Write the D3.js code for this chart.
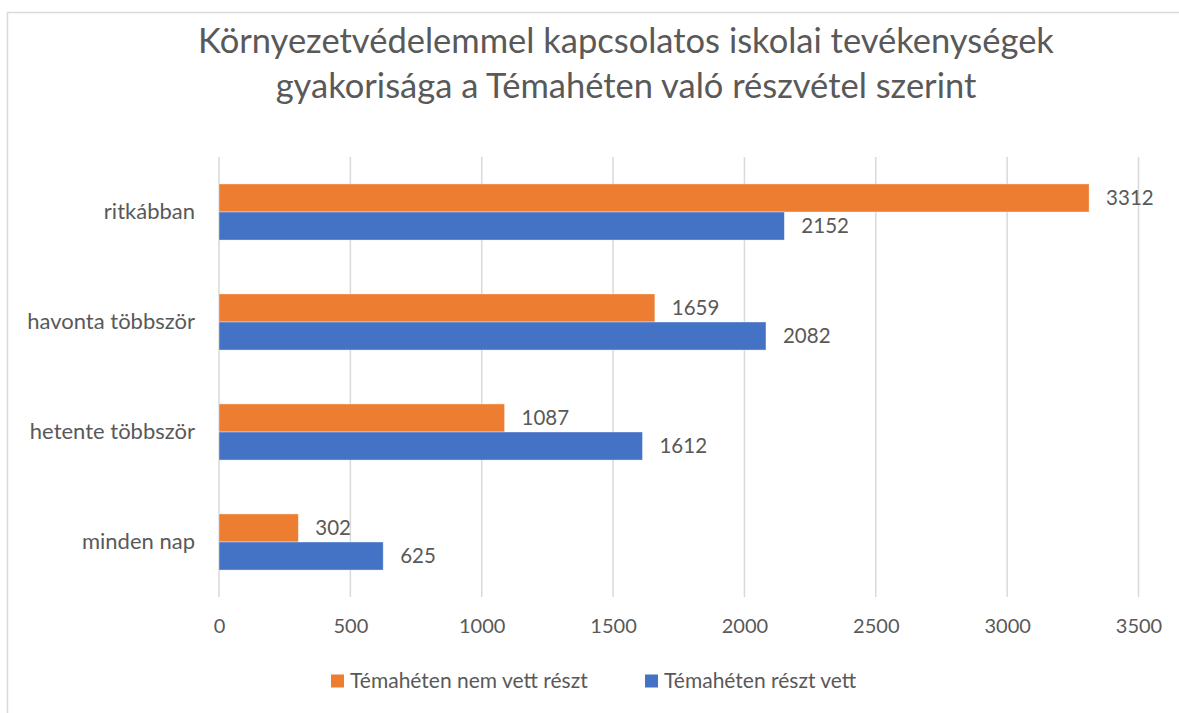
<!DOCTYPE html>
<html>
<head>
<meta charset="utf-8">
<script src="https://cdn.jsdelivr.net/npm/d3@7"></script>
<style>
  body { margin: 0; background: #fff; }
  svg text { font-family: Lato, "Open Sans", sans-serif; fill: #595959; }
</style>
</head>
<body>
<svg id="chart" width="1179" height="713"></svg>
<script>
// categories top to bottom
const categories = ['ritkábban', 'havonta többször', 'hetente többször', 'minden nap'];
const seriesNames = ['Témahéten nem vett részt', 'Témahéten részt vett'];
const notTaken = [3312, 1659, 1087, 302];
const taken = [2152, 2082, 1612, 625];
const xTicks = [0, 500, 1000, 1500, 2000, 2500, 3000, 3500];
const titleLines = ['Környezetvédelemmel kapcsolatos iskolai tevékenységek',
                    'gyakorisága a Témahéten való részvétel szerint'];
const colors = ['#ED7D31', '#4472C4'];

const svg = d3.select('#chart');

// chart border (only top & left visible, rest cropped)
svg.append('rect')
  .attr('x', 7.5).attr('y', 12.5)
  .attr('width', 1300).attr('height', 800)
  .attr('fill', 'none').attr('stroke', '#D9D9D9').attr('stroke-width', 1.5);

// title
svg.selectAll('.title')
  .data(titleLines)
  .enter()
  .append('text')
  .attr('class', 'title')
  .attr('x', 626)
  .attr('y', (d, i) => 53 + i * 45)
  .attr('text-anchor', 'middle')
  .style('font-size', '34.5px')
  .text(d => d);

// scales
let xScale = d3.scaleLinear()
  .domain([0, 3500])
  .range([219, 1138.5]);
let yScale = d3.scaleBand()
  .domain(categories)
  .range([157, 597])
  .paddingInner(0.49)
  .paddingOuter(0.245);
let ySub = d3.scaleBand()
  .domain([0, 1])
  .range([0, yScale.bandwidth()]);

// gridlines
svg.selectAll('.grid')
  .data(xTicks)
  .enter()
  .append('line')
  .attr('class', 'grid')
  .attr('x1', d => xScale(d)).attr('x2', d => xScale(d))
  .attr('y1', 157).attr('y2', 597)
  .attr('stroke', '#D9D9D9')
  .attr('stroke-width', 1.5);

// x axis labels
let xAxis = d3.axisBottom(xScale)
  .tickValues(xTicks)
  .tickFormat(d3.format('d'))
  .tickSize(0).tickPadding(0);
let gx = svg.append('g')
  .attr('transform', 'translate(0,619)')
  .call(xAxis);
gx.select('.domain').remove();
gx.selectAll('text')
  .style('font-size', '20px')
  .style('font-family', 'Lato, sans-serif')
  .attr('fill', '#595959');

// category labels
let yAxis = d3.axisLeft(yScale).tickSize(0).tickPadding(0);
let gy = svg.append('g')
  .attr('transform', 'translate(195,0)')
  .call(yAxis);
gy.select('.domain').remove();
gy.selectAll('text')
  .style('font-size', '22px')
  .style('font-family', 'Lato, sans-serif')
  .attr('fill', '#595959');

// bars
const rows = categories.map((c, i) => ({ cat: c, vals: [notTaken[i], taken[i]] }));

let groups = svg.selectAll('.grp')
  .data(rows)
  .enter()
  .append('g')
  .attr('class', 'grp')
  .attr('transform', d => `translate(0,${yScale(d.cat)})`);

groups.selectAll('rect')
  .data(d => d.vals.map((v, s) => ({ v, s })))
  .enter()
  .append('rect')
  .attr('x', xScale(0))
  .attr('y', d => ySub(d.s))
  .attr('width', d => xScale(d.v) - xScale(0))
  .attr('height', ySub.bandwidth())
  .attr('fill', d => colors[d.s])
  .attr('stroke', '#fff')
  .attr('stroke-opacity', 0.5)
  .attr('stroke-width', 0.75);

groups.selectAll('.lbl')
  .data(d => d.vals.map((v, s) => ({ v, s })))
  .enter()
  .append('text')
  .attr('class', 'lbl')
  .attr('x', d => xScale(d.v) + 17)
  .attr('y', d => ySub(d.s) + ySub.bandwidth() / 2)
  .attr('dy', '0.35em')
  .style('font-size', '20.5px')
  .text(d => d.v);

// legend
const legendX = [331, 645];
let legend = svg.selectAll('.leg')
  .data(seriesNames)
  .enter()
  .append('g')
  .attr('class', 'leg')
  .attr('transform', (d, i) => `translate(${legendX[i]},681)`);
legend.append('rect')
  .attr('x', 0).attr('y', -6.5)
  .attr('width', 13).attr('height', 13)
  .attr('fill', (d, i) => colors[i]);
legend.append('text')
  .attr('x', 19)
  .attr('dy', '0.35em')
  .style('font-size', '21px')
  .text(d => d);
</script>
</body>
</html>
